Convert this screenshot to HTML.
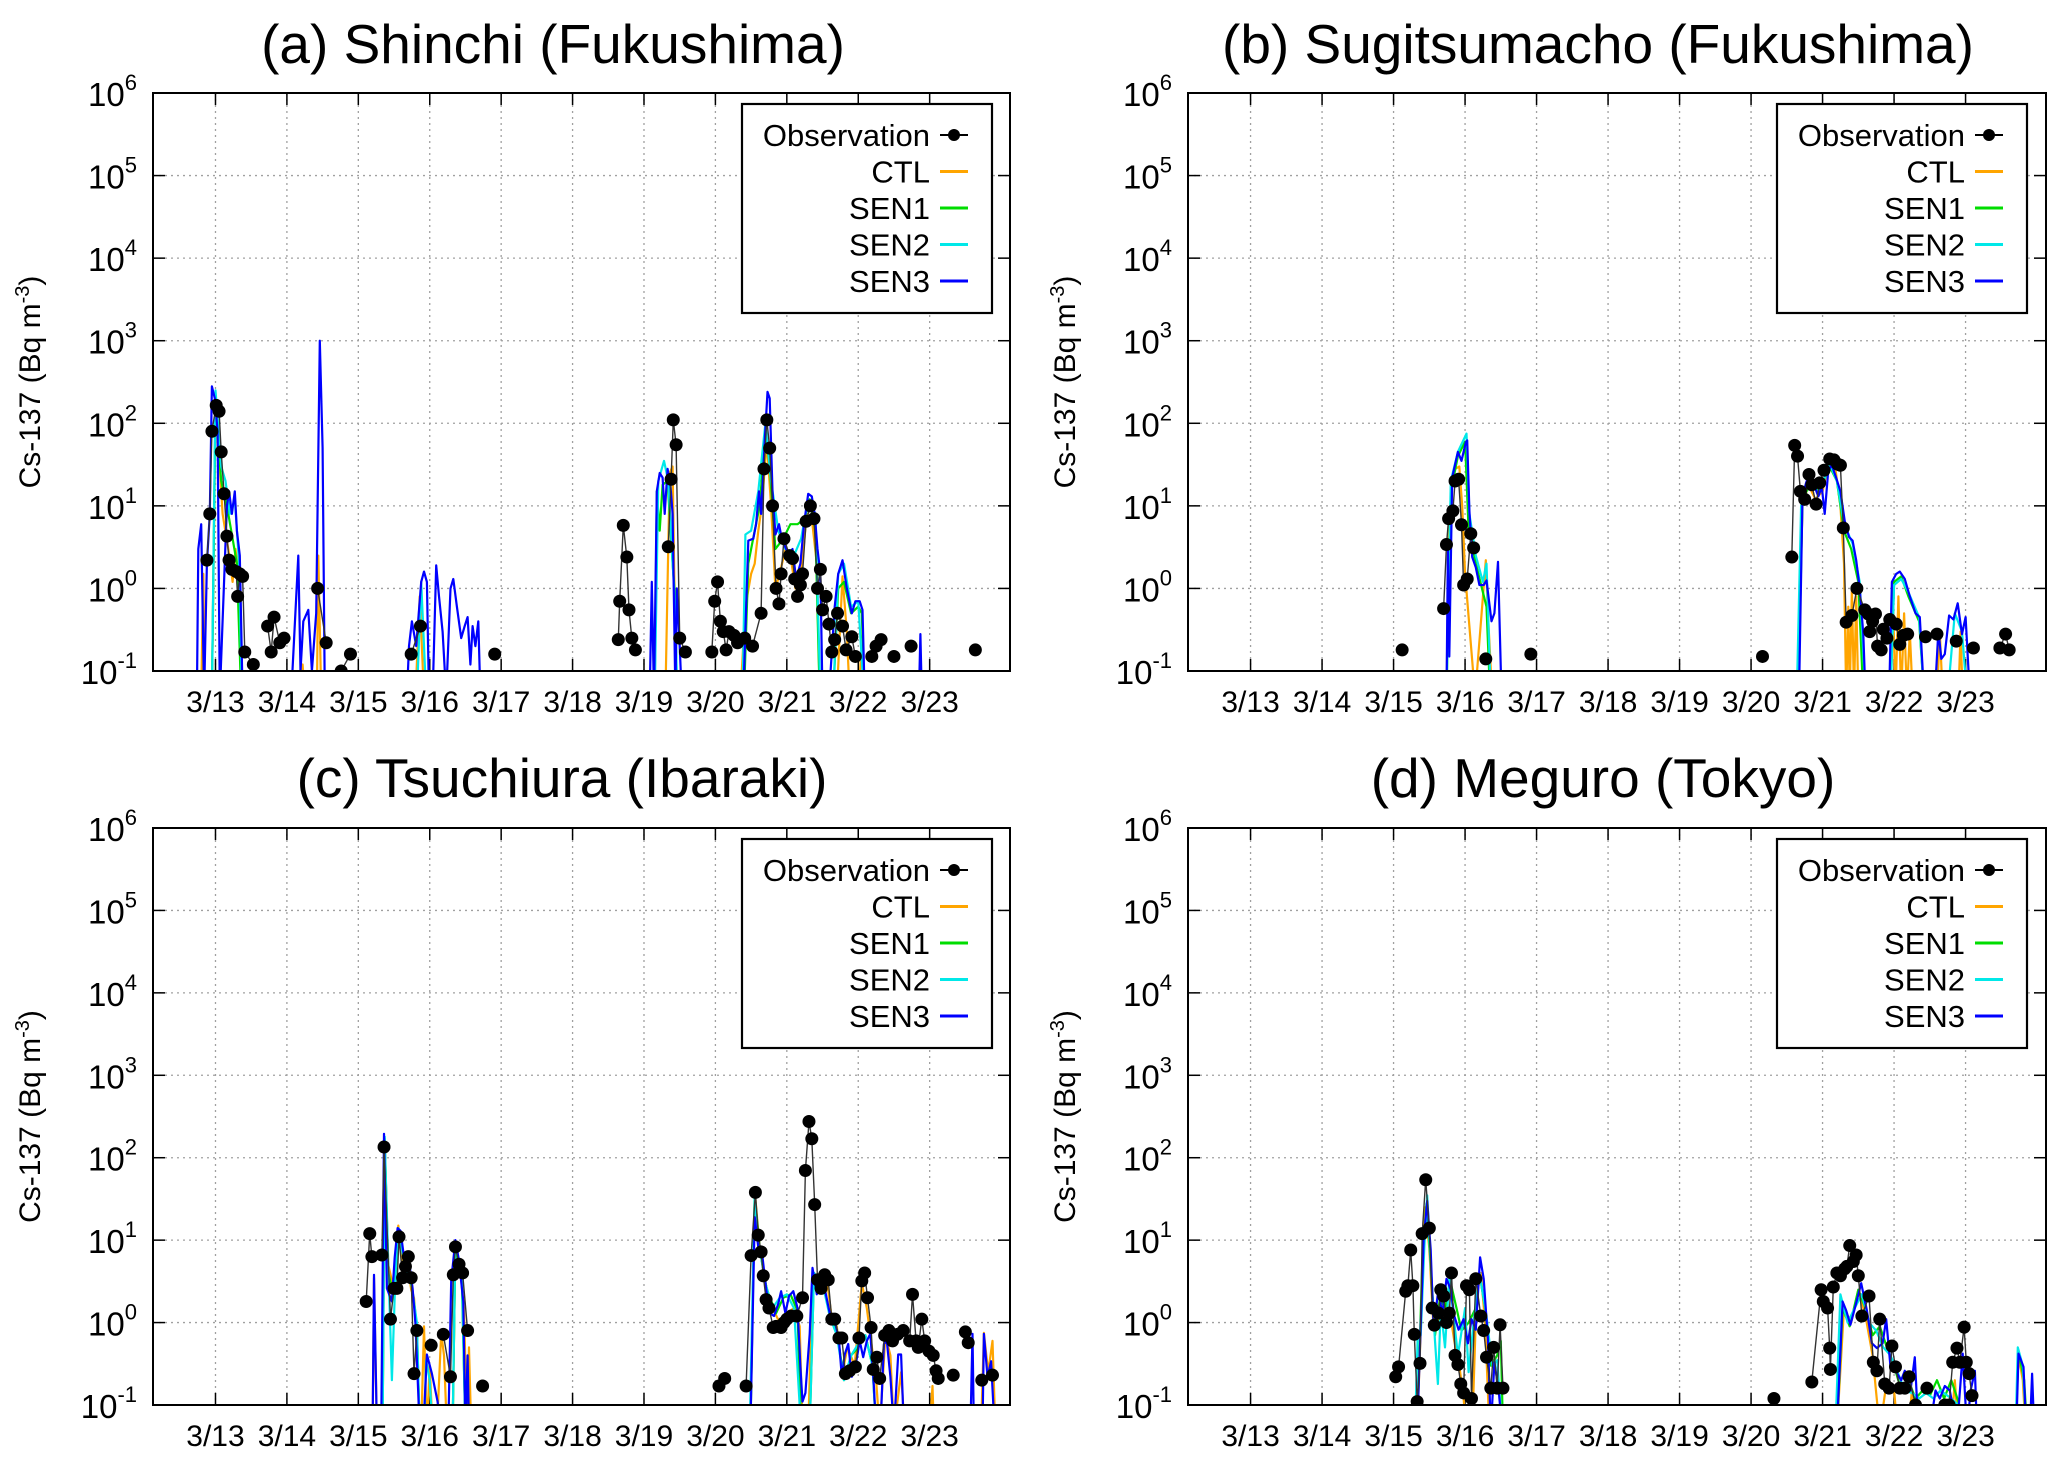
<!DOCTYPE html>
<html><head><meta charset="utf-8"><style>
html,body{margin:0;padding:0;background:#fff;}
svg{display:block;font-family:"Liberation Sans",Arial,sans-serif;}
</style></head><body>
<svg id="fig" width="2067" height="1469" viewBox="0 0 2067 1469" xmlns="http://www.w3.org/2000/svg"></svg>
<script>
// x values are days since 3/13 00:00, y values Bq m^-3 (values < 0.1 are below the axis)
const dayTicks = ["3/13","3/14","3/15","3/16","3/17","3/18","3/19","3/20","3/21","3/22","3/23"];
const yExps = [-1,0,1,2,3,4,5,6];
const seriesNames = ["Observation","CTL","SEN1","SEN2","SEN3"];
const panelTitles = ["(a) Shinchi (Fukushima)","(b) Sugitsumacho (Fukushima)","(c) Tsuchiura (Ibaraki)","(d) Meguro (Tokyo)"];

const obsA = [[-0.12,2.2],[-0.08,8],[-0.05,80],[0.01,165],[0.05,140],[0.08,45],[0.12,14],[0.16,4.3],[0.19,2.2],[0.23,1.7],[0.29,1.6],[0.31,0.8],[0.34,1.5],[0.38,1.4],[0.41,0.17],[0.53,0.12],[0.73,0.35],[0.78,0.17],[0.82,0.45],[0.9,0.22],[0.96,0.25],[1.43,1.0],[1.55,0.22],[1.76,0.1],[1.89,0.16],[2.74,0.16],[2.87,0.35],[3.91,0.16],[5.64,0.24],[5.66,0.7],[5.71,5.8],[5.76,2.4],[5.79,0.55],[5.83,0.25],[5.88,0.18],[6.34,3.2],[6.38,21],[6.41,110],[6.45,55],[6.50,0.25],[6.58,0.17],[6.95,0.17],[6.99,0.7],[7.03,1.2],[7.07,0.4],[7.11,0.3],[7.15,0.18],[7.19,0.3],[7.26,0.27],[7.31,0.22],[7.41,0.25],[7.52,0.2],[7.64,0.5],[7.68,28],[7.72,110],[7.76,50],[7.80,10],[7.85,1.0],[7.89,0.65],[7.92,1.5],[7.96,4],[8.04,2.5],[8.08,2.3],[8.11,1.3],[8.15,0.8],[8.19,1.1],[8.22,1.5],[8.27,6.5],[8.33,10],[8.38,7],[8.43,1.0],[8.47,1.7],[8.50,0.55],[8.55,0.8],[8.59,0.37],[8.63,0.17],[8.67,0.24],[8.71,0.5],[8.78,0.35],[8.83,0.18],[8.91,0.26],[8.96,0.15],[9.19,0.15],[9.25,0.2],[9.32,0.24],[9.50,0.15],[9.74,0.2],[10.64,0.18]];
const ctlA = [[-0.2,0.05],[-0.17,1.5],[-0.15,0.05],[-0.05,0.05],[0.0,150],[0.05,40],[0.1,8],[0.18,3],[0.24,1.2],[0.28,3],[0.32,1.5],[0.36,0.05],[1.2,0.05],[1.22,0.12],[1.25,0.05],[1.42,0.05],[1.44,2.5],[1.48,0.05],[2.8,0.05],[2.86,0.8],[2.92,0.05],[6.3,0.05],[6.36,25],[6.4,30],[6.45,0.05],[7.35,0.05],[7.42,0.6],[7.5,1.5],[7.55,2],[7.6,5],[7.65,10],[7.72,60],[7.78,10],[7.84,1.0],[7.9,1.5],[7.98,3],[8.05,2.5],[8.12,1],[8.2,1.5],[8.28,8],[8.35,7],[8.42,2],[8.46,0.05],[8.7,0.05],[8.78,1.4],[8.84,0.3],[8.88,0.05],[9.0,0.05],[9.05,0.2],[9.08,0.05]];
const sen1A = [[-0.05,0.05],[0.0,180],[0.08,20],[0.16,10],[0.24,4],[0.3,2],[0.36,0.05],[6.15,0.05],[6.18,15],[6.22,5],[6.26,18],[6.33,20],[6.4,2],[6.44,0.7],[6.46,0.05],[7.4,0.05],[7.46,2],[7.55,5],[7.62,10],[7.7,80],[7.76,30],[7.84,3],[7.95,4],[8.05,6],[8.15,6],[8.25,7],[8.32,12],[8.4,5],[8.46,0.05],[8.65,0.05],[8.72,1],[8.8,1.2],[8.9,0.5],[9.0,0.6],[9.05,0.5],[9.09,0.05]];
const sen2A = [[-0.05,0.05],[0.0,250],[0.08,30],[0.14,20],[0.2,8],[0.27,12],[0.33,2],[0.37,0.05],[2.82,0.05],[2.88,1.2],[2.95,0.05],[6.15,0.05],[6.2,20],[6.28,35],[6.34,20],[6.42,1],[6.47,0.05],[7.38,0.05],[7.42,4.5],[7.5,5],[7.6,15],[7.7,100],[7.78,20],[7.88,5],[7.98,3],[8.1,2.5],[8.2,4],[8.3,12],[8.4,8],[8.47,0.05],[8.65,0.05],[8.72,1.5],[8.8,2],[8.9,0.6],[9.0,0.7],[9.08,0.05]];
const sen3A = [[-0.26,0.05],[-0.24,3],[-0.2,6],[-0.16,0.05],[-0.12,2],[-0.08,8],[-0.05,280],[-0.01,200],[0.03,80],[0.06,0.05],[0.16,10],[0.19,15],[0.23,8],[0.27,15],[0.30,5],[0.34,2.5],[0.38,0.05],[1.06,0.05],[1.16,2.5],[1.19,0.1],[1.23,0.4],[1.30,0.55],[1.35,0.1],[1.41,0.5],[1.46,1000],[1.50,50],[1.53,0.05],[2.68,0.05],[2.71,0.2],[2.75,0.4],[2.81,0.2],[2.88,1.2],[2.92,1.6],[2.96,1.2],[2.99,0.05],[3.05,0.1],[3.09,1.9],[3.13,0.8],[3.18,0.3],[3.23,0.05],[3.29,1.0],[3.33,1.3],[3.38,0.6],[3.44,0.25],[3.49,0.35],[3.53,0.45],[3.57,0.12],[3.60,0.35],[3.64,0.2],[3.68,0.4],[3.71,0.05],[6.08,0.05],[6.11,1.2],[6.14,0.05],[6.18,15],[6.22,25],[6.26,22],[6.29,8],[6.33,28],[6.37,18],[6.40,8],[6.44,0.05],[6.46,1.0],[6.50,0.2],[6.53,0.05],[7.39,0.05],[7.46,3.8],[7.53,4],[7.57,6],[7.61,15],[7.64,8],[7.69,60],[7.73,240],[7.76,200],[7.80,15],[7.84,4.5],[7.89,6],[7.93,4],[7.99,3],[8.03,2.5],[8.08,3],[8.13,1.3],[8.19,2],[8.24,6],[8.30,14],[8.35,13],[8.39,8],[8.43,3],[8.47,1.5],[8.50,0.05],[8.59,0.05],[8.67,0.6],[8.72,1.5],[8.78,2.2],[8.84,1.0],[8.91,0.5],[8.96,0.7],[9.02,0.7],[9.06,0.55],[9.09,0.05],[9.85,0.05],[9.87,0.28],[9.89,0.05]];

const obsB = [[2.12,0.18],[2.70,0.57],[2.74,3.4],[2.77,7],[2.83,8.7],[2.86,20],[2.91,21],[2.95,5.9],[2.98,1.1],[3.03,1.3],[3.08,4.6],[3.12,3.1],[3.29,0.14],[3.92,0.16],[7.16,0.15],[7.57,2.4],[7.61,54],[7.65,40],[7.69,15],[7.75,12],[7.81,24],[7.85,18],[7.91,10.5],[7.96,19],[8.02,27],[8.10,37],[8.16,36],[8.21,32],[8.25,31],[8.29,5.4],[8.33,0.39],[8.41,0.47],[8.48,1.0],[8.59,0.55],[8.64,0.49],[8.66,0.3],[8.70,0.4],[8.74,0.49],[8.77,0.2],[8.82,0.18],[8.85,0.32],[8.90,0.25],[8.94,0.42],[9.03,0.37],[9.08,0.21],[9.13,0.27],[9.19,0.28],[9.44,0.26],[9.60,0.28],[9.87,0.23],[10.11,0.19],[10.48,0.19],[10.56,0.28],[10.61,0.18]];
const ctlB = [[2.74,0.05],[2.77,4],[2.82,20],[2.86,28],[2.92,30],[2.96,10],[3.0,1.5],[3.14,0.05],[3.29,2.2],[3.32,0.5],[3.38,0.05],[7.65,0.05],[7.72,10],[7.8,18],[7.9,12],[8.0,15],[8.1,38],[8.18,28],[8.25,10],[8.3,2],[8.33,0.05],[8.36,0.6],[8.38,0.05],[8.41,1.0],[8.44,0.05],[8.47,0.8],[8.5,0.05],[8.94,0.05],[8.98,1.0],[9.02,0.05],[9.06,0.8],[9.1,0.05],[9.14,0.5],[9.18,0.05],[9.22,0.3],[9.26,0.05],[9.6,0.05],[9.64,0.3],[9.68,0.05],[9.9,0.05],[9.93,0.3],[9.96,0.05]];
const sen1B = [[2.74,0.05],[2.8,15],[2.9,40],[3.0,60],[3.05,5],[3.15,2],[3.3,0.6],[3.35,0.05],[7.66,0.05],[7.72,12],[7.85,20],[7.95,15],[8.1,30],[8.2,20],[8.3,5],[8.4,3],[8.5,1.2],[8.57,0.05],[8.95,0.05],[9.0,1.2],[9.1,1.4],[9.2,0.8],[9.35,0.4],[9.42,0.05]];
const sen2B = [[2.74,0.05],[2.8,20],[2.9,45],[3.02,75],[3.06,8],[3.15,2.5],[3.25,1.2],[3.3,2],[3.36,0.05],[7.64,0.05],[7.7,10],[7.8,22],[7.95,14],[8.1,32],[8.2,20],[8.3,6],[8.42,3.5],[8.52,1.2],[8.6,0.05],[8.95,0.05],[9.0,1.1],[9.1,1.3],[9.2,0.9],[9.35,0.45],[9.42,0.05],[9.75,0.05],[9.85,0.5],[9.95,0.3],[10.02,0.05]];
const sen3B = [[2.74,0.05],[2.76,3],[2.78,0.15],[2.82,22],[2.90,45],[2.95,35],[3.01,59],[3.03,62],[3.06,8.7],[3.10,2.4],[3.15,1.8],[3.20,1.1],[3.26,1.1],[3.30,1.25],[3.37,0.4],[3.41,0.5],[3.46,2.1],[3.51,0.05],[7.67,0.05],[7.72,13],[7.77,19],[7.82,25],[7.89,17],[7.94,13],[7.99,17],[8.03,8],[8.08,27],[8.13,31],[8.19,22],[8.25,15],[8.31,6.6],[8.37,4.2],[8.42,3.8],[8.47,2.2],[8.52,1.0],[8.57,0.28],[8.60,0.05],[8.93,0.05],[8.97,1.2],[9.03,1.5],[9.08,1.6],[9.15,1.3],[9.22,0.8],[9.30,0.5],[9.36,0.45],[9.42,0.05],[9.57,0.05],[9.62,0.31],[9.66,0.14],[9.71,0.16],[9.77,0.47],[9.83,0.42],[9.89,0.66],[9.95,0.28],[10.0,0.45],[10.06,0.05]];

const obsC = [[2.11,1.8],[2.16,12],[2.19,6.3],[2.33,6.6],[2.36,135],[2.45,1.1],[2.50,2.6],[2.54,2.6],[2.57,11],[2.62,3.5],[2.66,4.8],[2.70,6.3],[2.74,3.5],[2.78,0.24],[2.82,0.8],[3.02,0.53],[3.19,0.72],[3.29,0.22],[3.33,3.8],[3.36,8.3],[3.41,5.1],[3.46,4],[3.53,0.8],[3.74,0.17],[7.05,0.17],[7.13,0.21],[7.43,0.17],[7.50,6.5],[7.56,38],[7.60,11.5],[7.64,7.2],[7.67,3.7],[7.71,1.9],[7.75,1.5],[7.81,0.87],[7.85,0.9],[7.92,0.87],[7.96,1.0],[8.0,1.1],[8.06,1.2],[8.14,1.2],[8.22,2.0],[8.26,70],[8.31,275],[8.35,170],[8.39,27],[8.43,3.3],[8.48,2.6],[8.53,3.8],[8.58,3.3],[8.63,1.1],[8.67,1.1],[8.73,0.65],[8.77,0.65],[8.82,0.24],[8.88,0.26],[8.96,0.29],[9.01,0.65],[9.05,3.2],[9.09,4],[9.13,2.0],[9.18,0.87],[9.21,0.27],[9.26,0.38],[9.30,0.21],[9.37,0.7],[9.43,0.8],[9.48,0.6],[9.55,0.72],[9.63,0.8],[9.72,0.6],[9.76,2.2],[9.81,0.6],[9.84,0.5],[9.89,1.1],[9.93,0.6],[9.99,0.45],[10.05,0.4],[10.09,0.26],[10.12,0.21],[10.33,0.23],[10.50,0.77],[10.54,0.57],[10.73,0.2],[10.88,0.23]];
const ctlC = [[2.2,0.05],[2.22,3.5],[2.26,0.05],[2.34,0.05],[2.37,150],[2.42,5],[2.5,2.5],[2.56,15],[2.62,5],[2.7,4.5],[2.74,2.5],[2.78,2],[2.82,0.8],[2.86,0.05],[2.88,0.05],[2.92,0.9],[2.96,0.05],[3.0,0.3],[3.04,0.05],[3.1,0.05],[3.16,0.75],[3.2,0.4],[3.24,0.05],[3.32,0.05],[3.36,8],[3.42,5],[3.48,1.5],[3.52,0.05],[3.55,0.5],[3.58,0.05],[7.49,0.05],[7.55,40],[7.62,8],[7.7,3],[7.8,1.5],[7.9,1.0],[8.0,1.3],[8.1,1.5],[8.18,0.9],[8.22,0.05],[8.3,0.05],[8.36,3.5],[8.45,3],[8.55,4],[8.62,1.3],[8.7,0.9],[8.78,0.25],[8.85,0.5],[8.95,0.3],[9.05,3],[9.12,1.5],[9.18,0.6],[9.25,0.2],[9.3,0.05],[9.38,0.7],[9.45,0.4],[9.5,0.05],[9.6,0.25],[9.65,0.05],[10.0,0.05],[10.04,0.17],[10.06,0.05],[10.72,0.05],[10.76,0.75],[10.82,0.25],[10.88,0.6],[10.92,0.05]];
const sen1C = [[2.34,0.05],[2.37,170],[2.42,4],[2.5,2],[2.56,13],[2.65,6],[2.75,2.8],[2.82,0.9],[2.86,0.05],[3.32,0.05],[3.36,9],[3.45,3],[3.5,0.05],[7.49,0.05],[7.55,35],[7.62,8],[7.72,2.5],[7.85,1.3],[7.95,2],[8.05,2.2],[8.15,1.4],[8.2,0.05],[8.32,0.05],[8.38,4],[8.5,3],[8.6,1.3],[8.7,0.8],[8.8,0.2],[8.9,0.4],[9.0,0.5],[9.1,0.7],[9.2,0.3],[9.25,0.05]];
const sen2C = [[2.34,0.05],[2.37,180],[2.42,5],[2.47,0.2],[2.52,4],[2.56,14],[2.65,5],[2.75,2.7],[2.82,1],[2.86,0.05],[2.92,0.05],[2.95,0.35],[3.0,0.2],[3.04,0.05],[3.32,0.05],[3.36,9],[3.45,4],[3.5,0.05],[7.48,0.05],[7.55,38],[7.6,10],[7.7,3],[7.8,1.5],[7.9,2],[8.0,2.2],[8.1,1.5],[8.2,0.05],[8.32,0.05],[8.38,4],[8.5,3],[8.6,1.2],[8.7,0.7],[8.8,0.2],[8.9,0.4],[9.0,0.55],[9.1,0.7],[9.2,0.3],[9.25,0.05]];
const sen3C = [[2.2,0.05],[2.22,3.8],[2.26,0.05],[2.32,0.05],[2.36,195],[2.40,2.6],[2.47,1.8],[2.51,6.2],[2.55,14],[2.59,13],[2.64,6.2],[2.71,5.6],[2.76,2.6],[2.80,0.95],[2.86,0.05],[2.91,0.05],[2.96,0.41],[3.03,0.24],[3.11,0.11],[3.15,0.05],[3.26,0.05],[3.30,3.2],[3.36,10],[3.41,5.6],[3.47,1.8],[3.50,0.05],[3.53,0.4],[3.55,0.05],[7.49,0.05],[7.55,19],[7.60,8.2],[7.65,7.4],[7.71,2.6],[7.76,1.3],[7.82,1.2],[7.88,1.7],[7.92,2.4],[7.98,1.3],[8.03,2.1],[8.09,2.4],[8.15,1.5],[8.19,0.29],[8.22,0.11],[8.26,0.14],[8.32,0.73],[8.36,4.6],[8.42,2.2],[8.48,3.2],[8.53,2.6],[8.60,1.3],[8.66,1.2],[8.73,0.6],[8.77,0.22],[8.81,0.41],[8.86,0.55],[8.91,0.22],[8.96,0.29],[9.02,0.6],[9.07,0.38],[9.12,0.6],[9.17,0.73],[9.22,0.16],[9.25,0.05],[9.31,0.05],[9.36,0.55],[9.40,0.6],[9.45,0.22],[9.5,0.05],[9.56,0.41],[9.60,0.41],[9.64,0.05],[10.57,0.05],[10.60,0.73],[10.62,0.05],[10.74,0.05],[10.76,0.73],[10.81,0.22],[10.86,0.34],[10.91,0.05]];

const obsD = [[2.03,0.22],[2.07,0.29],[2.17,2.4],[2.20,2.8],[2.24,7.6],[2.27,2.8],[2.29,0.72],[2.33,0.11],[2.37,0.32],[2.40,12],[2.45,54],[2.50,14],[2.54,1.5],[2.57,0.93],[2.63,1.3],[2.66,2.5],[2.70,2.1],[2.74,1.0],[2.78,1.3],[2.81,4],[2.86,0.4],[2.90,0.31],[2.94,0.18],[2.98,0.14],[3.02,2.8],[3.06,2.5],[3.09,0.12],[3.15,3.4],[3.22,1.2],[3.26,0.8],[3.30,0.38],[3.36,0.16],[3.40,0.5],[3.45,0.16],[3.49,0.94],[3.53,0.16],[7.32,0.12],[7.85,0.19],[7.98,2.5],[8.01,1.8],[8.07,1.5],[8.10,0.49],[8.11,0.27],[8.15,2.7],[8.20,4],[8.25,3.7],[8.31,4.5],[8.34,4.8],[8.38,8.6],[8.43,5.5],[8.47,6.6],[8.50,3.7],[8.55,1.2],[8.65,2.1],[8.71,0.33],[8.76,0.26],[8.80,1.1],[8.87,0.18],[8.93,0.16],[8.97,0.52],[9.02,0.29],[9.08,0.16],[9.15,0.16],[9.21,0.22],[9.30,0.1],[9.46,0.16],[9.71,0.1],[9.77,0.1],[9.82,0.33],[9.88,0.49],[9.92,0.33],[9.98,0.88],[10.01,0.33],[10.05,0.24],[10.09,0.13]];
const ctlD = [[2.33,0.05],[2.38,0.8],[2.44,25],[2.5,8],[2.56,0.8],[2.65,1.2],[2.72,2],[2.78,1.5],[2.85,0.6],[2.92,0.3],[2.98,0.12],[3.02,0.05],[3.1,0.05],[3.16,2],[3.22,4],[3.28,1],[3.34,0.05],[8.2,0.05],[8.3,1.5],[8.4,1.0],[8.5,2.5],[8.6,1.2],[8.7,0.4],[8.75,0.14],[8.8,0.05],[8.9,0.2],[9.0,0.15],[9.05,0.05],[9.2,0.05],[9.25,0.15],[9.3,0.05],[9.8,0.05],[9.85,0.2],[9.9,0.05],[10.7,0.05],[10.74,0.4],[10.8,0.2],[10.84,0.05]];
const sen1D = [[2.33,0.05],[2.4,5],[2.46,28],[2.52,5],[2.58,0.7],[2.65,2],[2.72,1.5],[2.8,3],[2.88,1.5],[2.95,0.8],[3.05,1.0],[3.15,1.5],[3.2,4],[3.28,1.5],[3.36,0.3],[3.45,0.4],[3.5,0.6],[3.53,0.05],[8.2,0.05],[8.28,1.5],[8.38,0.9],[8.5,2.5],[8.6,1.5],[8.7,0.7],[8.8,0.9],[8.9,0.5],[9.0,0.3],[9.1,0.15],[9.2,0.2],[9.3,0.12],[9.4,0.15],[9.5,0.13],[9.6,0.2],[9.7,0.12],[9.8,0.2],[9.9,0.11],[10.0,0.05],[10.7,0.05],[10.74,0.45],[10.82,0.2],[10.86,0.05]];
const sen2D = [[2.3,0.05],[2.34,0.8],[2.38,0.7],[2.43,8],[2.47,35],[2.52,5],[2.58,0.6],[2.62,0.18],[2.66,1.5],[2.72,0.5],[2.78,3.5],[2.85,1],[2.9,0.4],[3.0,1.5],[3.05,0.25],[3.12,1],[3.2,4],[3.3,1.2],[3.38,0.3],[3.45,0.35],[3.52,0.05],[8.18,0.05],[8.25,2.2],[8.35,1.0],[8.45,1.5],[8.55,2.2],[8.65,1.0],[8.75,0.8],[8.85,0.5],[8.95,0.4],[9.05,0.25],[9.15,0.15],[9.25,0.14],[9.35,0.12],[9.45,0.14],[9.55,0.12],[9.65,0.15],[9.8,0.12],[9.9,0.1],[10.0,0.05],[10.7,0.05],[10.73,0.5],[10.8,0.3],[10.85,0.05]];
const sen3D = [[2.33,0.05],[2.42,10],[2.47,30],[2.52,7.6],[2.56,0.82],[2.63,2.7],[2.68,1.2],[2.74,3.4],[2.80,2.5],[2.85,1.2],[2.91,0.82],[2.98,1.1],[3.04,0.56],[3.09,1.1],[3.15,0.82],[3.21,6.2],[3.26,3.4],[3.32,0.64],[3.36,0.05],[3.41,0.33],[3.47,0.15],[3.52,0.05],[8.2,0.05],[8.28,1.8],[8.33,1.4],[8.39,0.94],[8.46,1.6],[8.54,3.0],[8.62,1.4],[8.69,0.56],[8.76,0.49],[8.84,0.56],[8.89,1.1],[8.95,0.29],[9.02,0.26],[9.1,0.2],[9.15,0.26],[9.23,0.15],[9.29,0.38],[9.34,0.05],[9.5,0.05],[9.58,0.15],[9.64,0.12],[9.71,0.17],[9.78,0.15],[9.88,0.05],[9.96,0.42],[10.02,0.05],[10.07,0.15],[10.13,0.26],[10.16,0.05],[10.71,0.05],[10.74,0.42],[10.81,0.29],[10.85,0.05],[10.9,0.05],[10.93,0.24],[10.96,0.05]];

const panelObs = [obsA, obsB, obsC, obsD];
const panelCtl = [ctlA, ctlB, ctlC, ctlD];
const panelSen1 = [sen1A, sen1B, sen1C, sen1D];
const panelSen2 = [sen2A, sen2B, sen2C, sen2D];
const panelSen3 = [sen3A, sen3B, sen3C, sen3D];

const NS = "http://www.w3.org/2000/svg";
const svg = document.getElementById('fig');
const layout = [
  {L:153, R:1010, T:93, B:671, tx:553, ty:63},
  {L:1188, R:2046, T:93, B:671, tx:1598, ty:63},
  {L:153, R:1010, T:828, B:1405, tx:562, ty:797},
  {L:1188, R:2046, T:828, B:1405, tx:1603, ty:797}
];
const XMIN = -0.875, XMAX = 11.125, YMIN = -1, YMAX = 6;
const colors = ["#000000","#ffa500","#00dd00","#00e8e8","#0000ff"];

function mk(tag, attrs, parent) {
  const e = document.createElementNS(NS, tag);
  for (const k in attrs) e.setAttribute(k, attrs[k]);
  (parent || svg).appendChild(e);
  return e;
}

layout.forEach((p, pi) => {
  const xs = d => p.L + (d - XMIN) / (XMAX - XMIN) * (p.R - p.L);
  const ys = v => p.B - (Math.log10(v) - YMIN) / (YMAX - YMIN) * (p.B - p.T);
  const g = mk('g', {});
  
  

  const title = mk('text', {x:p.tx, y:p.ty, 'font-size':55, 'text-anchor':'middle', fill:'#000'}, g);
  title.textContent = panelTitles[pi];
  
  

  const yl = mk('text', {x:0, y:0, 'font-size':30, 'text-anchor':'middle', transform:`translate(${p.L-113},${(p.T+p.B)/2}) rotate(-90)`}, g);
  yl.innerHTML = 'Cs-137 (Bq m<tspan dy="-11" font-size="20">-3</tspan><tspan dy="11">)</tspan>';
  
  

  const grid = mk('g', {stroke:'#a0a0a0', 'stroke-width':1.3, 'stroke-dasharray':'2,4'}, g);
  
  
  yExps.forEach(e => { const y = ys(Math.pow(10, e)); if (e > YMIN && e < YMAX) mk('line', {x1:p.L, x2:p.R, y1:y, y2:y}, grid); });
  dayTicks.forEach((t, i) => { const x = xs(i); mk('line', {x1:x, x2:x, y1:p.T, y2:p.B}, grid); });

  const tk = mk('g', {stroke:'#000', 'stroke-width':1.5}, g);
  yExps.forEach(e => {
    const y = ys(Math.pow(10, e));
    mk('line', {x1:p.L, x2:p.L+12, y1:y, y2:y}, tk);
    mk('line', {x1:p.R-12, x2:p.R, y1:y, y2:y}, tk);
    const lab = mk('text', {x:p.L-16, y:y+13, 'font-size':33, 'text-anchor':'end', stroke:'none'}, g);
    lab.innerHTML = '10<tspan dy="-16" font-size="22">' + e + '</tspan>';
    
    
  });
  dayTicks.forEach((t, i) => {
    const x = xs(i);
    mk('line', {x1:x, x2:x, y1:p.B-12, y2:p.B}, tk);
    mk('line', {x1:x, x2:x, y1:p.T, y2:p.T+12}, tk);
    const lab = mk('text', {x:x, y:p.B+41, 'font-size':30, 'text-anchor':'middle'}, g);
    lab.textContent = t;
    
    
  });

  const cid = 'clip' + pi;
  const cp = mk('clipPath', {id:cid}, g);
  mk('rect', {x:p.L, y:p.T, width:p.R-p.L, height:p.B-p.T}, cp);
  const plot = mk('g', {'clip-path':`url(#${cid})`}, g);

  const modelSets = [panelCtl[pi], panelSen1[pi], panelSen2[pi], panelSen3[pi]];
  modelSets.forEach((arr, si) => {
    const pts = arr.map(d => xs(d[0]).toFixed(1) + ',' + ys(d[1]).toFixed(1)).join(' ');
    const pl = mk('polyline', {points:pts, fill:'none', stroke:colors[si+1], 'stroke-width':2.2, 'stroke-linejoin':'round'}, plot);
    
    
  });

  const obs = panelObs[pi];
  let seg = [];
  const segs = [];
  obs.forEach((d, i) => {
    if (i > 0 && d[0] - obs[i-1][0] > 0.15) { segs.push(seg); seg = []; }
    seg.push(d);
  });
  segs.push(seg);
  segs.forEach(s => {
    if (s.length < 2) return;
    const pl = mk('polyline', {points:s.map(d => xs(d[0]).toFixed(1) + ',' + ys(d[1]).toFixed(1)).join(' '), fill:'none', stroke:'#333', 'stroke-width':1.4}, plot);
    
    
  });
  obs.forEach(d => {
    const c = mk('circle', {cx:xs(d[0]), cy:ys(d[1]), r:6.5, fill:'#000'}, plot);
    
    
  });

  const fr = mk('rect', {x:p.L, y:p.T, width:p.R-p.L, height:p.B-p.T, fill:'none', stroke:'#000', 'stroke-width':2}, g);
  
  

  const lx = p.L + 589, ly = p.T + 11;
  const lg = mk('g', {}, g);
  
  
  mk('rect', {x:lx, y:ly, width:250, height:209, fill:'#fff', stroke:'#000', 'stroke-width':2.2}, lg);
  seriesNames.forEach((n, i) => {
    const ry = ly + 31 + i * 36.5;
    const ent = mk('g', {}, lg);
    
    
    const t = mk('text', {x:lx+188, y:ry+11, 'font-size':31, 'text-anchor':'end'}, ent);
    t.textContent = n;
    mk('line', {x1:lx+198, x2:lx+226, y1:ry, y2:ry, stroke:i===0?'#000':colors[i], 'stroke-width':i===0?2:3}, ent);
    if (i === 0) mk('circle', {cx:lx+212, cy:ry, r:6, fill:'#000'}, ent);
  });
});
</script>
</body></html>
